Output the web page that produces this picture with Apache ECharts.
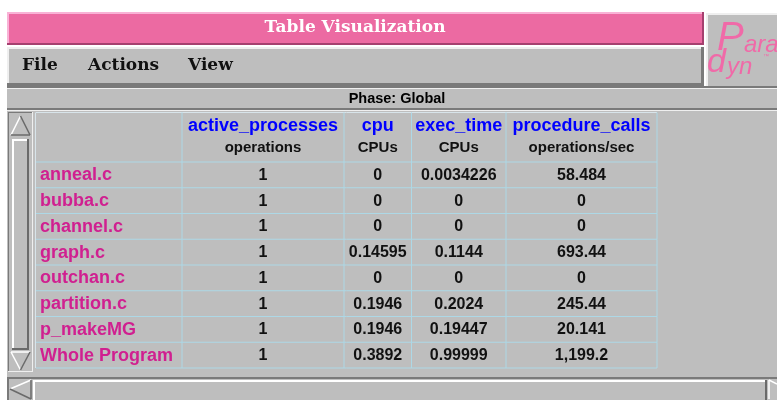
<!DOCTYPE html>
<html>
<head>
<meta charset="utf-8">
<script src="https://cdn.jsdelivr.net/npm/echarts@6/dist/echarts.min.js"></script>
<style>html,body{margin:0;padding:0;background:#fff}#c{width:777px;height:400px}</style>
</head>
<body>
<div id="c"></div>
<script>
// ---- data ----
const rowNames = ['anneal.c','bubba.c','channel.c','graph.c','outchan.c','partition.c','p_makeMG','Whole Program'];
const metricNames = ['active_processes','cpu','exec_time','procedure_calls'];
const metricUnits = ['operations','CPUs','CPUs','operations/sec'];
const activeProcesses = [1,1,1,1,1,1,1,1];
const cpu = [0,0,0,0.14595,0,0.1946,0.1946,0.3892];
const execTime = [0.0034226,0,0,0.1144,0,0.2024,0.19447,0.99999];
const procedureCalls = [58.484,0,0,693.44,0,245.44,20.141,1199.2];
const titleText = 'Table Visualization';
const menuItems = ['File','Actions','View'];
const phaseText = 'Phase: Global';

// ---- layout ----
const GRAY = '#bebebe', LIGHT = '#efefef', DARK = '#7a7a7a', GRID = '#add8e6';
const colEdges = [36, 182, 344, 411.5, 506, 657];
const tableTop = 112.5, headerBottom = 162, tableBottom = 368;
const fmt = new Intl.NumberFormat('en-US', {maximumSignificantDigits: 5});
const metricCols = [activeProcesses, cpu, execTime, procedureCalls];

const chart = echarts.init(document.getElementById('c'), null, {renderer: 'canvas'});

function rect(x, y, w, h, fill, z) { return {type: 'rect', shape: {x, y, width: w, height: h}, style: {fill}, z: z || 1, silent: true}; }
function text(x, y, t, font, fill, align, z) {
  return {type: 'text', x, y, style: {text: t, font, fill, align: align || 'center', verticalAlign: 'middle'}, z: z || 5, silent: true};
}
function poly(points, fill, stroke, z) { return {type: 'polygon', shape: {points}, style: {fill, stroke: stroke || null, lineWidth: 1}, z: z || 3, silent: true}; }
function line(x1, y1, x2, y2, stroke, w, z) { return {type: 'line', shape: {x1, y1, x2, y2}, style: {stroke, lineWidth: w || 1}, z: z || 4, silent: true}; }

const g = [];
// white background
g.push(rect(0, 0, 777, 400, '#ffffff', 0));
// title bar
g.push(rect(7, 12, 697, 33, '#ec6aa2', 1));
g.push(rect(7, 12, 697, 2, '#f9b2d6', 2));
g.push(rect(7, 12, 2, 33, '#f9b2d6', 2));
g.push(rect(7, 43, 697, 2, '#a5406f', 2));
g.push(rect(702, 12, 2, 33, '#a5406f', 2));
g.push(text(355, 28, titleText, 'bold 17px "DejaVu Serif"', '#ffffff', 'center'));
// menu bar
g.push(rect(7, 47, 697, 39, GRAY, 1));
g.push(rect(7, 47, 697, 2, LIGHT, 2));
g.push(rect(7, 47, 2, 39, LIGHT, 2));
g.push(rect(7, 83, 697, 3, DARK, 2));
g.push(rect(701, 47, 3, 39, DARK, 2));
const menuX = [22, 88, 188];
menuItems.forEach((m, i) => g.push(text(menuX[i], 66, m, 'bold 17px "DejaVu Serif"', '#111111', 'left')));
// logo box
g.push(rect(706, 13, 71, 73, GRAY, 1));
g.push(rect(706, 13, 71, 2, LIGHT, 2));
g.push(rect(706, 13, 2, 73, LIGHT, 2));
g.push(text(717, 39, 'P', 'italic 40px "Liberation Sans"', '#f06aa8', 'left'));
g.push(text(744, 45, 'ara', 'italic 24px "Liberation Sans"', '#f06aa8', 'left'));
g.push(text(707, 63, 'd', 'italic 34px "Liberation Sans"', '#f06aa8', 'left'));
g.push(text(727, 67, 'yn', 'italic 24px "Liberation Sans"', '#f06aa8', 'left'));
g.push(text(763, 56, '\u2122', '6px "Liberation Sans"', '#f06aa8', 'left'));
// lower panel
g.push(rect(7, 86, 770, 314, GRAY, 1));
g.push(rect(7, 86, 770, 2, DARK, 2));
g.push(rect(7, 88, 770, 1, LIGHT, 2));
g.push(rect(7, 108, 770, 2, DARK, 2));
g.push(rect(7, 110, 770, 1, LIGHT, 2));
g.push(text(397, 99, phaseText, 'bold 14.5px "Liberation Sans"', '#000000', 'center'));
// vertical scrollbar
g.push(rect(8, 112, 25, 260, GRAY, 2));
g.push(rect(8, 112, 25, 1, DARK, 3));
g.push(rect(8, 112, 1, 260, DARK, 3));
g.push(rect(32, 112, 1, 260, LIGHT, 3));
g.push(rect(8, 371, 25, 1, LIGHT, 3));
g.push(poly([[20.5, 116], [11, 135], [30, 135]], GRAY, null, 3));
g.push(line(20.5, 116, 11, 135, '#ffffff', 1.5, 4));
g.push(line(11, 135, 30, 135, '#6a6a6a', 1.5, 4));
g.push(line(20.5, 116, 30, 135, '#6a6a6a', 1.5, 4));
g.push(rect(12, 139, 17, 211, GRAY, 3));
g.push(rect(12, 139, 17, 2, '#ffffff', 4));
g.push(rect(12, 139, 2, 211, '#ffffff', 4));
g.push(rect(27, 139, 2, 211, '#6a6a6a', 4));
g.push(rect(12, 348, 17, 2, '#6a6a6a', 4));
g.push(poly([[11, 352], [30, 352], [20.5, 370]], GRAY, null, 3));
g.push(line(11, 352, 30, 352, '#ffffff', 1.5, 4));
g.push(line(11, 352, 20.5, 370, '#ffffff', 1.5, 4));
g.push(line(30, 352, 20.5, 370, '#6a6a6a', 1.5, 4));
// horizontal scrollbar
g.push(rect(7, 377, 770, 23, GRAY, 2));
g.push(rect(7, 377, 770, 2, DARK, 3));
g.push(rect(7, 377, 2, 23, DARK, 3));
g.push(poly([[10, 389], [31, 380], [31, 399]], GRAY, null, 3));
g.push(line(10, 389, 31, 380, '#ffffff', 1.5, 4));
g.push(line(10, 389, 31, 399, '#6a6a6a', 1.5, 4));
g.push(line(31, 380, 31, 399, '#6a6a6a', 1.5, 4));
g.push(rect(33, 380, 734, 20, GRAY, 3));
g.push(rect(33, 380, 734, 2, '#ffffff', 4));
g.push(rect(33, 380, 2, 20, '#ffffff', 4));
g.push(rect(765, 380, 2, 20, '#6a6a6a', 4));
g.push(line(769, 380, 777, 384, '#ffffff', 1.5, 4));
g.push(line(769, 380, 769, 399, '#ffffff', 1.5, 4));
// table frame + header
g.push(line(36, tableTop, 657, tableTop, '#d8e4ea', 1, 4));
g.push(line(35.5, tableTop, 35.5, tableBottom, '#d8e4ea', 1, 4));
g.push(line(36, headerBottom, 657, headerBottom, GRID, 1, 4));
for (let i = 1; i < colEdges.length; i++) {
  g.push(line(colEdges[i], tableTop, colEdges[i], headerBottom, GRID, 1, 4));
}
metricNames.forEach((m, i) => {
  const cx = (colEdges[i + 1] + colEdges[i + 2]) / 2;
  g.push(text(cx, 126, m, 'bold 18px "Liberation Sans"', '#0000ff', 'center'));
  g.push(text(cx, 148, metricUnits[i], 'bold 15px "Liberation Sans"', '#111111', 'center'));
});

const rowData = rowNames.map((n, i) => [0.5, i]);

chart.setOption({
  animation: false,
  backgroundColor: '#ffffff',
  graphic: g,
  grid: {left: colEdges[0], top: headerBottom, width: colEdges[5] - colEdges[0], height: tableBottom - headerBottom},
  xAxis: {type: 'value', min: 0, max: 1, show: false},
  yAxis: {type: 'category', data: rowNames, inverse: true, show: false},
  series: [{
    type: 'custom',
    z: 10,
    data: rowData,
    renderItem: function (params, api) {
      const idx = api.value(1);
      const c = api.coord([0, idx]);
      const h = api.size([0, 1])[1];
      const yTop = c[1] - h / 2, yBot = c[1] + h / 2;
      const kids = [];
      kids.push({type: 'text', style: {x: colEdges[0] + 4, y: c[1] + 0.5, text: rowNames[idx], font: 'bold 18px "Liberation Sans"', fill: '#d02090', align: 'left', verticalAlign: 'middle'}});
      metricCols.forEach((arr, j) => {
        const cx = (colEdges[j + 1] + colEdges[j + 2]) / 2;
        kids.push({type: 'text', style: {x: cx, y: c[1] + 0.5, text: fmt.format(arr[idx]), font: 'bold 16px "Liberation Sans"', fill: '#111111', align: 'center', verticalAlign: 'middle'}});
      });
      kids.push({type: 'line', shape: {x1: colEdges[0], y1: yBot, x2: colEdges[5], y2: yBot}, style: {stroke: GRID, lineWidth: 1}});
      for (let k = 1; k < colEdges.length; k++) {
        kids.push({type: 'line', shape: {x1: colEdges[k], y1: yTop, x2: colEdges[k], y2: yBot}, style: {stroke: GRID, lineWidth: 1}});
      }
      return {type: 'group', children: kids};
    }
  }]
});
</script>
</body>
</html>
